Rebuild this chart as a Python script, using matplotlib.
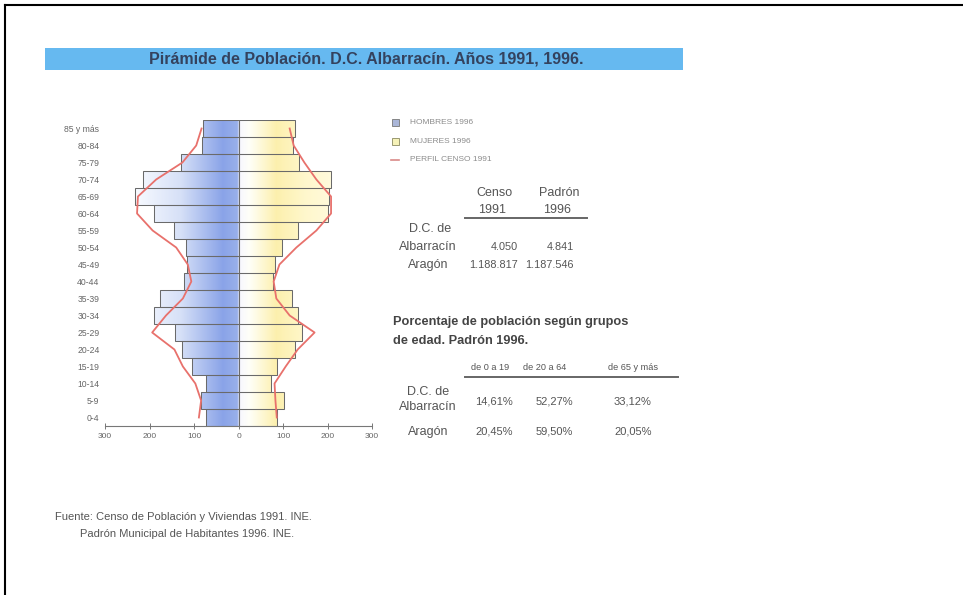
import numpy as np
import matplotlib
matplotlib.use("Agg")
import matplotlib.pyplot as plt
from matplotlib.patches import Rectangle, PathPatch
from matplotlib.path import Path
from matplotlib.lines import Line2D

plt.rcParams['font.family'] = ['Liberation Sans', 'DejaVu Sans']

# --- data ---
ages = ["0-4", "5-9", "10-14", "15-19", "20-24", "25-29", "30-34", "35-39",
        "40-44", "45-49", "50-54", "55-59", "60-64", "65-69", "70-74",
        "75-79", "80-84", "85 y más"]
hombres_1996 = [74, 85, 74, 104, 128, 142, 189, 176, 123, 115, 119, 145,
                191, 232, 214, 130, 82, 80]
mujeres_1996 = [86, 102, 72, 86, 127, 143, 134, 120, 77, 82, 97, 134,
                201, 203, 207, 135, 122, 127]
perfil_h_1991 = [89, 84, 97, 125, 144, 194, 163, 125, 106, 114, 140, 193,
                 228, 226, 185, 126, 95, 83]
perfil_m_1991 = [86, 83, 81, 106, 133, 171, 115, 85, 79, 92, 130, 175,
                 208, 208, 175, 148, 124, 115]
x_ticks = [-300, -200, -100, 0, 100, 200, 300]

leyenda = ["HOMBRES 1996", "MUJERES 1996", "PERFIL CENSO 1991"]

t1_cols = [("Censo", "1991"), ("Padrón", "1996")]
t1_rows = ["Albarracín", "Aragón"]
t1_vals = [["4.050", "4.841"], ["1.188.817", "1.187.546"]]

t2_cols = ["de 0 a 19", "de 20 a 64", "de 65 y más"]
t2_vals = [["14,61%", "52,27%", "33,12%"], ["20,45%", "59,50%", "20,05%"]]

W, H = 963, 595
fig = plt.figure(figsize=(W / 100, H / 100), dpi=100)
fig.patch.set_facecolor("white")


def fx(px):
    return px / W


def fy(py):
    return 1 - py / H


# frame (only top and left edges fall inside the picture)
fig.add_artist(Line2D([fx(5), fx(5)], [fy(5), 0], color="black", lw=1.5))
fig.add_artist(Line2D([fx(5), 1], [fy(5), fy(5)], color="black", lw=1.5))

# title band
fig.add_artist(Rectangle((fx(45), fy(70)), fx(683) - fx(45), fy(48) - fy(70),
                         transform=fig.transFigure, color="#66b9f0", lw=0))
fig.text(fx(366), fy(59), "Pirámide de Población. D.C. Albarracín. Años 1991, 1996.",
         ha="center", va="center", fontsize=11.5, fontweight="bold", color="#34425e")

# --- pyramid ---
ax = fig.add_axes([fx(105), fy(426), fx(372) - fx(105), fy(120) - fy(426)])
y = np.arange(len(ages))
hm = -np.array(hombres_1996)
mj = np.array(mujeres_1996)
bars_h = ax.barh(y, hm, height=1, color="none", edgecolor="#6a6a6a", lw=0.75, zorder=3)
bars_m = ax.barh(y, mj, height=1, color="none", edgecolor="#6a6a6a", lw=0.75, zorder=3)

# colour gradient inside the bars
xs = np.linspace(-300, 300, 600)
stops = [(-300, (1, 1, 1)), (-230, (0.97, 0.98, 1.0)), (-130, (0.84, 0.88, 0.97)),
         (-35, (0.54, 0.64, 0.91)), (-2, (0.60, 0.69, 0.92)), (2, (0.97, 0.97, 1.0)),
         (25, (1, 1, 0.97)), (85, (0.99, 0.94, 0.68)), (150, (1.0, 0.97, 0.80)),
         (300, (1, 1, 0.96))]
sx = [s[0] for s in stops]
grad = np.zeros((1, xs.size, 3))
for c in range(3):
    grad[0, :, c] = np.interp(xs, sx, [s[1][c] for s in stops])
rects = [b.get_path().transformed(b.get_patch_transform())
         for b in list(bars_h) + list(bars_m)]
clip = PathPatch(Path.make_compound_path(*rects), transform=ax.transData,
                 facecolor="none", edgecolor="none")
ax.add_patch(clip)
im = ax.imshow(grad, extent=(-300, 300, -0.5, len(ages) - 0.5), aspect="auto",
               interpolation="bilinear", zorder=2)
im.set_clip_path(clip)

ax.plot([0, 0], [-0.5, len(ages) - 0.5], color="#6a6a6a", lw=0.75, zorder=3)
ax.plot(-np.array(perfil_h_1991), y, color="#e8716c", lw=1.3, zorder=4)
ax.plot(perfil_m_1991, y, color="#e8716c", lw=1.3, zorder=4)

ax.set_xlim(-300, 300)
ax.set_ylim(-0.5, len(ages) - 0.5)
ax.set_yticks(y)
ax.set_yticklabels(ages, fontsize=6.2, color="#666")
ax.tick_params(axis="y", length=0, pad=4)
ax.set_xticks(x_ticks)
ax.set_xticklabels([str(abs(v)) for v in x_ticks], fontsize=6, color="#666")
ax.tick_params(axis="x", direction="inout", length=4, width=0.7, color="#777", pad=3)
for s in ["top", "right", "left"]:
    ax.spines[s].set_visible(False)
ax.spines["bottom"].set_color("#777")
ax.spines["bottom"].set_linewidth(0.8)
ax.set_facecolor("none")

# --- legend ---
fig.add_artist(Rectangle((fx(392), fy(126)), fx(7), fy(0) - fy(7), transform=fig.transFigure,
                         facecolor="#aab6d8", edgecolor="#777", lw=0.6))
fig.add_artist(Rectangle((fx(392), fy(145)), fx(7), fy(0) - fy(7), transform=fig.transFigure,
                         facecolor="#f6f2b8", edgecolor="#8a8a60", lw=0.6))
fig.add_artist(Line2D([fx(391), fx(399)], [fy(160), fy(160)], color="#d98a88", lw=1.2))
for i, t in enumerate(leyenda):
    fig.text(fx(410), fy(123 + 18.5 * i), t, ha="left", va="center",
             fontsize=6, color="#8c8c8c")

# --- table 1 ---
txt = dict(color="#555", va="center")
for (c1, c2), cx in zip(t1_cols, [494, 559]):
    fig.text(fx(cx), fy(193), c1, ha="center", fontsize=9, **txt)
    fig.text(fx(cx - 2), fy(210), c2, ha="center", fontsize=9, **txt)
fig.add_artist(Line2D([fx(465), fx(587)], [fy(218), fy(218)], color="#666", lw=1.4))
fig.text(fx(430), fy(229), "D.C. de", ha="center", fontsize=9, **txt)
for r, (lab, ry) in enumerate(zip(t1_rows, [247, 265])):
    fig.text(fx(428), fy(ry), lab, ha="center", fontsize=9, **txt)
    for v, vx in zip(t1_vals[r], [518, 574]):
        fig.text(fx(vx), fy(ry), v, ha="right", fontsize=7.8, **txt)

# --- table 2 ---
fig.text(fx(393), fy(322), "Porcentaje de población según grupos", ha="left",
         fontsize=9.2, fontweight="bold", color="#444", va="center")
fig.text(fx(393), fy(341), "de edad. Padrón 1996.", ha="left",
         fontsize=9.2, fontweight="bold", color="#444", va="center")
col_x = [490, 545, 633]
for c, cx in zip(t2_cols, col_x):
    fig.text(fx(cx), fy(368), c, ha="center", fontsize=6.6, **txt)
fig.add_artist(Line2D([fx(465), fx(678)], [fy(377), fy(377)], color="#666", lw=1.4))
fig.text(fx(428), fy(392), "D.C. de", ha="center", fontsize=9, **txt)
for r, (lab, ry) in enumerate(zip(t1_rows, [407, 432])):
    fig.text(fx(428), fy(ry), lab, ha="center", fontsize=9, **txt)
    vy = 401 if r == 0 else 432
    for v, vx in zip(t2_vals[r], [494, 554, 633]):
        fig.text(fx(vx), fy(vy), v, ha="center", fontsize=8, **txt)

# --- source ---
fig.text(fx(55), fy(517), "Fuente: Censo de Población y Viviendas 1991. INE.",
         ha="left", fontsize=8, **txt)
fig.text(fx(80), fy(534), "Padrón Municipal de Habitantes 1996. INE.",
         ha="left", fontsize=8, **txt)

fig.savefig("out.png", dpi=100)
